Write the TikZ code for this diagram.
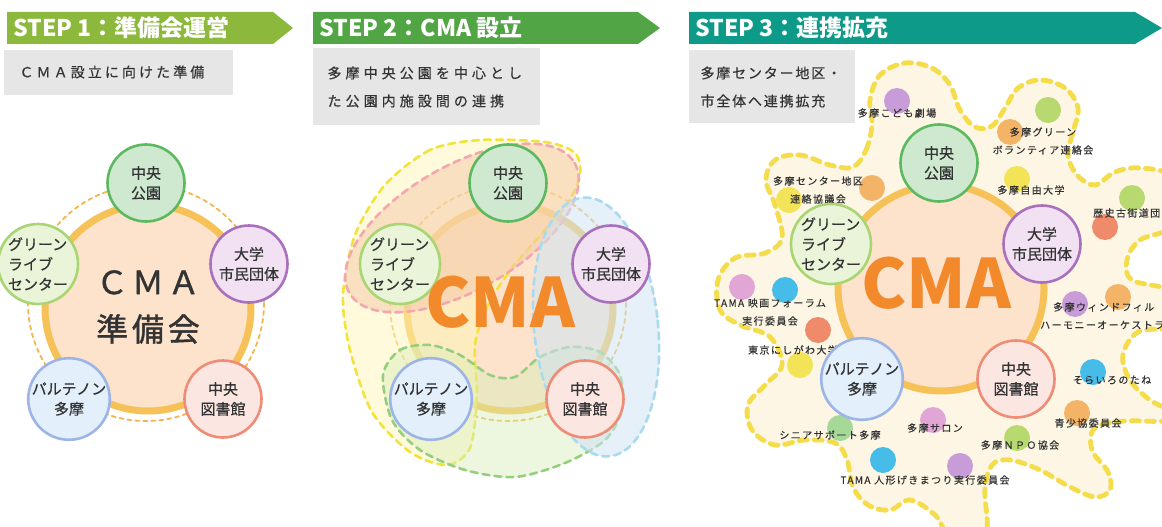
\documentclass[tikz,border=0pt]{standalone}
\usepackage{fontspec}
\setmainfont{Noto Sans CJK JP}
\definecolor{stepone}{HTML}{8CB93B}
\definecolor{steptwo}{HTML}{52A544}
\definecolor{stepthree}{HTML}{0E9A88}
\definecolor{boxgray}{HTML}{E6E6E6}
\definecolor{ink}{HTML}{333333}
\definecolor{cmafill}{HTML}{FDE3CC}
\definecolor{cmaline}{HTML}{F6C257}
\definecolor{orbit}{HTML}{F4B64B}
\definecolor{cmaorange}{HTML}{F28A2B}
\definecolor{parkfill}{HTML}{CFE9D1}
\definecolor{parkline}{HTML}{5DB95F}
\definecolor{unifill}{HTML}{F1E1F3}
\definecolor{uniline}{HTML}{A970BD}
\definecolor{libfill}{HTML}{FBE6E2}
\definecolor{libline}{HTML}{EE8C76}
\definecolor{partfill}{HTML}{E3F0FC}
\definecolor{partline}{HTML}{9DB5E6}
\definecolor{glcfill}{HTML}{E9F4D8}
\definecolor{glcline}{HTML}{A9D573}
\definecolor{cream}{HTML}{FDF6E4}
\definecolor{dashyellow}{HTML}{F5DC4A}
\definecolor{dotpink}{HTML}{E2A6D6}
\definecolor{dotpurple}{HTML}{C79CD8}
\definecolor{dotgreen}{HTML}{B8D870}
\definecolor{dotsage}{HTML}{A6D89A}
\definecolor{dotorange}{HTML}{F3B468}
\definecolor{dotyellow}{HTML}{F3E356}
\definecolor{dotred}{HTML}{EF8B6B}
\definecolor{dotblue}{HTML}{46BCE8}
\definecolor{yelfill}{HTML}{FFF6B8}
\definecolor{yelline}{HTML}{F2E33C}
\definecolor{pinkfill}{HTML}{F3C6A8}
\definecolor{pinkline}{HTML}{F2A8AE}
\definecolor{grnfill}{HTML}{D7EDB8}
\definecolor{grnline}{HTML}{96CE7F}
\definecolor{bluefill}{HTML}{CFE3F3}
\definecolor{blueline}{HTML}{A9DAF0}
\begin{document}
\begin{tikzpicture}[x=1pt,y=-1pt,line join=round,line cap=round]
		\tikzset{member/.style={circle,minimum size=77pt,inner sep=0pt,line width=2.6pt,align=center,text=ink,font=\fontsize{15}{20}\selectfont\addfontfeature{FakeBold=0.6}},
			park/.style={member,fill=parkfill,draw=parkline},
			uni/.style={member,fill=unifill,draw=uniline},
			lib/.style={member,fill=libfill,draw=libline},
			part/.style={member,fill=partfill,draw=partline},
			glc/.style={member,fill=glcfill,draw=glcline,align=left},
			headline/.style={anchor=west,text=white,font=\fontsize{23}{23}\selectfont\bfseries},
			memo/.style={anchor=west,align=left,text=ink,font=\fontsize{14}{28}\selectfont\addfontfeature{LetterSpace=#1,FakeBold=0.5}},
			memo/.default=13,
			tag/.style={inner sep=0pt,align=center,text=ink,font=\fontsize{10}{18}\selectfont\addfontfeature{LetterSpace=14,FakeBold=0.5}},
			cmatext/.style={text=cmaorange,font=\fontsize{68}{68}\selectfont\bfseries},
			blob/.style={line width=2.6pt,dash pattern=on 7pt off 5pt}}
		\useasboundingbox (0,0) rectangle (1162,527);
		% step headers
		\fill[stepone] (7,12)--(273,12)--(293,28)--(273,44)--(7,44)--cycle;
		\fill[steptwo] (313,12)--(638,12)--(660,28)--(638,44)--(313,44)--cycle;
		\fill[stepthree] (689,12)--(1135,12)--(1162,28)--(1135,44)--(689,44)--cycle;
		\node[headline] (h1) at (10,28) {STEP 1：準備会運営};
		\node[headline] (h2) at (316,28) {STEP 2：CMA 設立};
		\node[headline] (h3) at (692,28) {STEP 3：連携拡充};
		\fill[boxgray] (4,50) rectangle (233,95);
		\fill[boxgray] (313,48) rectangle (540,125);
		\fill[boxgray] (689,50) rectangle (855,123);
		\node[memo=22] (m1) at (16,72) {ＣＭＡ設立に向けた準備};
		\node[memo=29] (m2) at (324,87) {多摩中央公園を中心とし\\た公園内施設間の連携};
		\node[memo] (m3) at (697,87) {多摩センター地区・\\市全体へ連携拡充};
		% step 3 network area
		\filldraw[fill=cream,draw=dashyellow,line width=4.8pt,dash pattern=on 8pt off 7pt] plot[smooth cycle,tension=0.6] coordinates {
			(853,167) (866,150) (872,125) (870,100) (880,75) (905,63) (932,68) (950,85) (960,110) (975,127) (992,126)
			(1005,108) (1018,88) (1040,80) (1065,88) (1078,108) (1073,132) (1068,155) (1077,175) (1095,185) (1115,172) (1140,168) (1172,178)
			(1172,225) (1140,240) (1127,260) (1132,280) (1172,292)
			(1172,325) (1138,332) (1123,355) (1130,380) (1150,400) (1172,412) (1165,421) (1125,421) (1095,428) (1092,450) (1108,472) (1110,490) (1095,497) (1070,487) (1040,470) (1010,460) (992,465) (985,490) (985,535)
			(950,535) (935,515) (910,500) (890,510) (868,505) (853,487) (847,460) (835,443) (805,440) (775,445) (752,430) (748,405) (765,385) (782,365) (770,337) (740,325) (720,310) (718,280) (735,258) (765,253) (782,238) (775,205) (766,180) (775,160) (800,155) (830,165)};
		\foreach \s/\cx/\cy in {a/146/303,b/508/303,c/939/283}
		\filldraw[fill=cmafill,draw=cmaline,line width=7pt] (\cx+2,\cy+5) circle (103);
		\foreach \cx in {146,508}
		\draw[orbit,line width=1.8pt,dash pattern=on 4pt off 4pt] (\cx,303) circle (118);
		% step 2 overlaps
		\filldraw[blob,fill=yelfill,fill opacity=.5,draw=yelline] plot[smooth cycle] coordinates {(480,140) (430,150) (385,185) (355,235) (343,295) (350,350) (372,412) (410,452) (447,465) (470,448) (477,397) (475,345) (488,305) (512,268) (545,230) (568,203) (580,175) (575,153) (545,142)};
		\filldraw[blob,fill=pinkfill,fill opacity=.5,draw=pinkline] (462,228) ellipse [x radius=130,y radius=62,rotate=30];
		\filldraw[blob,fill=grnfill,fill opacity=.45,draw=grnline] plot[smooth cycle] coordinates {(383,375) (400,350) (430,345) (460,355) (490,375) (515,377) (540,357) (570,347) (600,352) (620,375) (622,410) (605,440) (565,463) (515,477) (465,470) (420,450) (392,420)};
		\filldraw[blob,fill=bluefill,fill opacity=.55,draw=blueline] (596,327) ellipse [x radius=62,y radius=130,rotate=6];
		% step 3 partners
		\foreach \x/\y/\c in {897/101/dotpurple,1048/110/dotgreen,1010/132/dotorange,1017/179/dotyellow,872/188/dotorange,789/200/dotyellow,1132/198/dotgreen,1105/227/dotred,742/287/dotpink,785/290/dotblue,818/330/dotred,800/365/dotyellow,1075/304/dotpurple,1118/297/dotorange,1093/372/dotblue,1077/413/dotorange,1017/438/dotgreen,960/466/dotpurple,933/420/dotpink,840/428/dotsage,883/460/dotblue}
		\fill[\c] (\x,\y) circle (13);
		\foreach \x/\y/\t [count=\i] in {897/113/多摩こども劇場,1043/141/{多摩グリーン\\ボランティア連絡会},1031/190/多摩自由大学,818/190/{多摩センター地区\\連絡協議会},770/312/{TAMA 映画フォーラム\\実行委員会},793/350/東京にしがわ大学,1112/380/そらいろのたね,1088/423/青少協委員会,1020/445/多摩ＮＰＯ協会,935/428/多摩サロン,830/435/シニアサポート多摩,925/480/TAMA 人形げきまつり実行委員会}
		\node[tag] (t\i) at (\x,\y) {\t};
		\node[tag,anchor=west] (t13) at (1093,213) {歴史古街道団};
		\node[tag,anchor=west] (t14) at (1053,307) {多摩ウィンドフィル};
		\node[tag,anchor=west] (t15) at (1040,325) {ハーモニーオーケストラ};
		% members
		\foreach \s/\cx/\cy in {a/146/303,b/508/303,c/939/283}{
			\node[park] (\s-park) at (\cx,\cy-120) {中央\\公園};
			\node[uni] (\s-uni) at (\cx+103,\cy-39) {大学\\市民団体};
			\node[lib] (\s-lib) at (\cx+77,\cy+96) {中央\\図書館};
			\node[part] (\s-part) at (\cx-77,\cy+96) {パルテノン\\多摩};
			\node[glc] (\s-glc) at (\cx-108,\cy-39) {グリーン\\ライブ\\センター};
		}
		\node[align=center,text=ink,font=\fontsize{32}{47}\selectfont\addfontfeature{LetterSpace=12,FakeBold=1.2}] (prep) at (148,307) {ＣＭＡ\\準備会};
		\node[cmatext] (cma2) at (500,302) {CMA};
		\node[cmatext] (cma3) at (936,283) {CMA};
		
		\end{tikzpicture}
\end{document}
